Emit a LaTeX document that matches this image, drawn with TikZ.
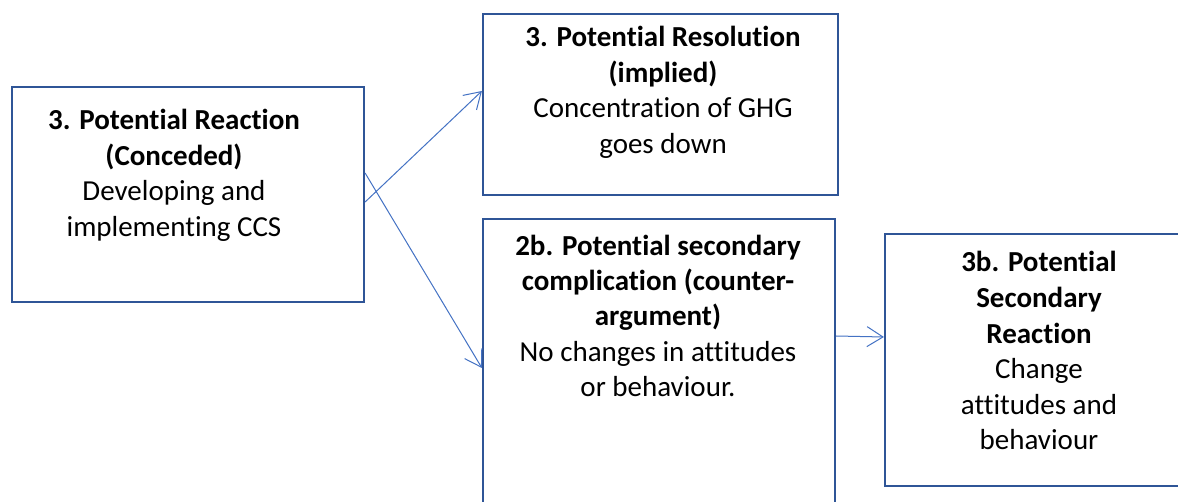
\documentclass[tikz,border=0pt]{standalone}
\usepackage{fontspec}
\setmainfont{Carlito}[Ligatures={NoCommon}]
\usetikzlibrary{arrows.meta}
\definecolor{boxblue}{HTML}{2F5597}
\definecolor{arrblue}{HTML}{4472C4}
\begin{document}
\begin{tikzpicture}[x=1pt,y=-1pt,
  box/.style={draw=boxblue, line width=2.2pt, rectangle, inner sep=0pt},
  txt/.style={align=center, font=\fontsize{29}{35.5}\selectfont, inner sep=0pt, anchor=base},
  conn/.style={draw=arrblue, line width=1pt, -{Straight Barb[length=16pt,width=20pt]}}]
\useasboundingbox (0,0) rectangle (1178,502);
\fill[white] (0,0) rectangle (1178,502);
\clip (0,0) rectangle (1178,502);
\node[box, minimum width=352pt, minimum height=215pt] (A) at (188,194.5) {};
\node[box, minimum width=355pt, minimum height=181pt] (B) at (660.5,104.5) {};
\node[box, minimum width=352pt, minimum height=321pt] (C) at (659,379.5) {};
\node[box, minimum width=310pt, minimum height=252pt] (D) at (1040,360) {};
\node[txt] (tA) at (174,236.5) {\textbf{3. Potential Reaction}\\\textbf{(Conceded)}\\Developing and\\implementing CCS};
\node[txt] (tB) at (663,153.5) {\textbf{3. Potential Resolution}\\\textbf{(implied)}\\Concentration of GHG\\goes down};
\node[txt] (tC) at (658,397) {\textbf{2b. Potential secondary}\\\textbf{complication (counter-}\\\textbf{argument)}\\No changes in attitudes\\or behaviour.};
\node[txt] (tD) at (1039,449.5) {\textbf{3b. Potential}\\\textbf{Secondary}\\\textbf{Reaction}\\Change\\attitudes and\\behaviour};
\draw[conn] ([yshift=-7.5pt]A.east) -- ([yshift=13.5pt]B.west);
\draw[conn] ([yshift=21.5pt]A.east) -- ([yshift=11.5pt]C.west);
\draw[conn] ([yshift=43.5pt]C.east) -- ([yshift=23pt]D.west);
\end{tikzpicture}
\end{document}
